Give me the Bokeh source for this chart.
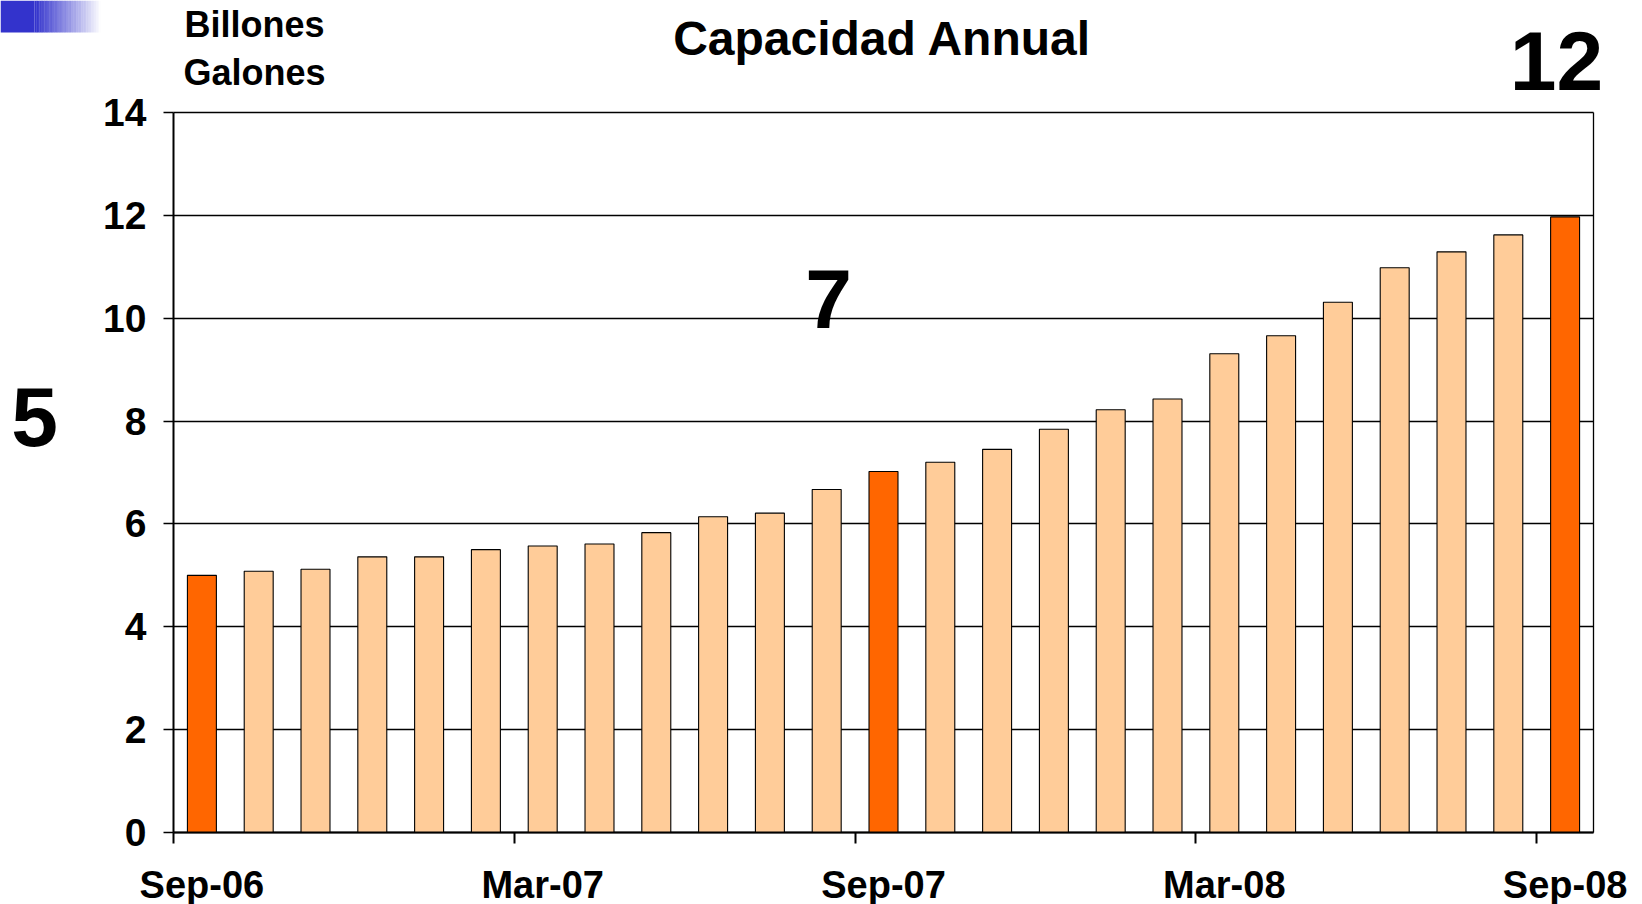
import numpy as np
from bokeh.plotting import figure
from bokeh.models import Range1d, FixedTicker, Label, BoxAnnotation, LinearAxis, Grid
from bokeh.embed import file_html
from bokeh.resources import INLINE

# ---------------- data ----------------
months = ["Sep-06", "Oct-06", "Nov-06", "Dec-06", "Jan-07", "Feb-07", "Mar-07",
          "Apr-07", "May-07", "Jun-07", "Jul-07", "Aug-07", "Sep-07", "Oct-07",
          "Nov-07", "Dec-07", "Jan-08", "Feb-08", "Mar-08", "Apr-08", "May-08",
          "Jun-08", "Jul-08", "Aug-08", "Sep-08"]
capacity = [5.0, 5.08, 5.12, 5.36, 5.36, 5.5, 5.57, 5.61, 5.83, 6.14, 6.21, 6.67,
            7.02, 7.2, 7.45, 7.84, 8.22, 8.43, 9.31, 9.66, 10.31, 10.98, 11.29,
            11.62, 11.97]
highlight = ["Sep-06", "Sep-07", "Sep-08"]
x_tick_labels = ["Sep-06", "Mar-07", "Sep-07", "Mar-08", "Sep-08"]
y_ticks = [0, 2, 4, 6, 8, 10, 12, 14]
title_text = "Capacidad Annual"
unit_lines = ["Billones", "Galones"]
callout_texts = ["5", "7", "12"]

# ---------------- layout ----------------
W, H = 1642, 904
PL, PR, PT, PB = 173, 1593, 112, 832   # plot box edges in canvas px
FONT = "Liberation Sans"
DARK, LIGHT = "#FF6600", "#FFCC99"

n_cat = len(months)
y_max = y_ticks[-1]
sx = (PR - PL) / n_cat
sy = (PB - PT) / y_max
x_range = Range1d(-PL / sx, n_cat + (W - PR) / sx)
y_range = Range1d(-(H - PB) / sy, y_max + PT / sy)

p = figure(width=W, height=H, output_backend="svg", toolbar_location=None,
           x_range=x_range, y_range=y_range,
           min_border=0, min_border_left=0, min_border_right=0,
           min_border_top=0, min_border_bottom=0)
p.background_fill_color = "white"
p.border_fill_color = "white"
p.outline_line_color = None

# horizontal grid lines limited to the plot box
p.xgrid.visible = False
p.ygrid.ticker = FixedTicker(ticks=y_ticks)
p.ygrid.grid_line_color = "black"
p.ygrid.grid_line_width = 1.3
if "cross_bounds" in Grid.properties():
    p.ygrid.bounds = (0, y_max)
    p.ygrid.cross_bounds = (0, n_cat)
else:
    p.ygrid.visible = False
    p.segment(x0=0, x1=n_cat, y0=y_ticks, y1=y_ticks,
              line_color="black", line_width=1.3)

xs = np.arange(n_cat) + 0.5
colors = [DARK if m in highlight else LIGHT for m in months]
p.vbar(x=xs, top=capacity, bottom=0, width=0.51, fill_color=colors,
       line_color="black", line_width=1.1)

# x axis: labels centred on categories, tick marks on category boundaries
xa = p.xaxis[0]
xa.fixed_location = 0
xa.bounds = (0, n_cat)
xa.ticker = FixedTicker(ticks=[months.index(m) + 0.5 for m in x_tick_labels],
                        minor_ticks=[months.index(m) for m in x_tick_labels])
xa.major_label_overrides = {months.index(m) + 0.5: m for m in x_tick_labels}
xa.major_tick_out = 0
xa.major_tick_in = 0
xa.minor_tick_out = 11
xa.minor_tick_in = 0
xa.minor_tick_line_color = "black"
xa.minor_tick_line_width = 2
xa.axis_line_color = "black"
xa.axis_line_width = 2
xa.major_label_text_font = FONT
xa.major_label_text_font_style = "bold"
xa.major_label_text_font_size = "38px"
xa.major_label_text_color = "black"
xa.major_label_standoff = 20

ya = p.yaxis[0]
ya.fixed_location = 0
ya.bounds = (0, y_max)
ya.ticker = FixedTicker(ticks=y_ticks)
ya.major_tick_out = 10
ya.major_tick_in = 0
ya.major_tick_line_color = "black"
ya.major_tick_line_width = 1.5
ya.minor_tick_out = 0
ya.minor_tick_in = 0
ya.axis_line_color = "black"
ya.axis_line_width = 2
ya.major_label_text_font = FONT
ya.major_label_text_font_style = "bold"
ya.major_label_text_font_size = "39px"
ya.major_label_text_color = "black"
ya.major_label_standoff = 17

# right-hand border of the plot box
rb = LinearAxis(fixed_location=n_cat, bounds=(0, y_max), ticker=FixedTicker(ticks=[]),
                major_tick_out=0, major_tick_in=0, minor_tick_out=0, minor_tick_in=0,
                major_label_text_font_size="0px", axis_line_color="black",
                axis_line_width=1.3)
p.add_layout(rb, "right")

# ---------------- annotations (canvas units, centred vertically) ----------------


def add_text(text, px, py, size):
    p.add_layout(Label(x=px, y=py, x_units="canvas", y_units="canvas",
                       text=text, text_font=FONT,
                       text_font_style="bold", text_font_size=size,
                       text_color="black", text_align="center",
                       text_baseline="middle"))


add_text(title_text, 882, 38, "48px")
add_text(unit_lines[0], 254, 24, "36px")
add_text(unit_lines[1], 254, 72, "36px")
add_text(callout_texts[0], 34, 416, "84px")
add_text(callout_texts[1], 828, 298, "84px")
add_text(callout_texts[2], 1556, 60, "84px")

# decorative blue gradient block (top-left corner)
p.add_layout(BoxAnnotation(left=0, right=34, top=0, bottom=32,
                           left_units="canvas", right_units="canvas",
                           top_units="canvas", bottom_units="canvas",
                           fill_color="#3333CC", fill_alpha=1.0, line_color=None))
n = 40
edges = np.linspace(34, 100, n + 1)
for i in range(n):
    a = 1.0 - (i + 0.5) / n
    p.add_layout(BoxAnnotation(left=edges[i], right=edges[i + 1] + 0.2, top=0, bottom=32,
                               left_units="canvas", right_units="canvas",
                               top_units="canvas", bottom_units="canvas",
                               fill_color="#3333CC", fill_alpha=a, line_color=None))

open("out.html", "w").write(file_html(p, INLINE))
